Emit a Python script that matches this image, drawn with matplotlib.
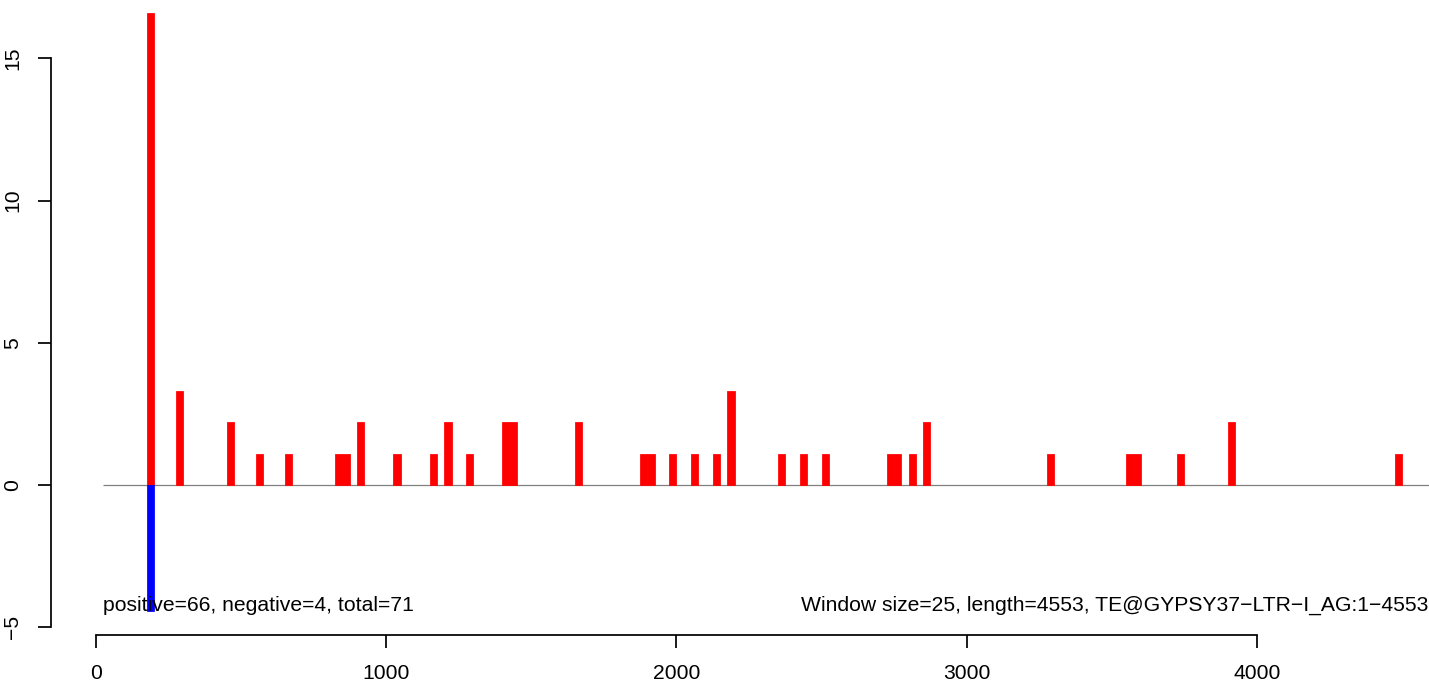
import matplotlib as mpl
mpl.use('Agg')
import matplotlib.pyplot as plt

# window starts (bp) and scaled counts
window = 25
pos_start = [175, 275, 450, 550, 650, 825, 850, 900, 1025, 1150, 1200, 1275,
             1400, 1425, 1650, 1875, 1900, 1975, 2050, 2125, 2175, 2350, 2425,
             2500, 2725, 2750, 2800, 2850, 3275, 3550, 3575, 3725, 3900, 4475]
pos_value = [16.6, 3.32, 2.21, 1.11, 1.11, 1.11, 1.11, 2.21, 1.11, 1.11, 2.21,
             1.11, 2.21, 2.21, 2.21, 1.11, 1.11, 1.11, 1.11, 1.11, 3.32, 1.11,
             1.11, 1.11, 1.11, 1.11, 1.11, 2.21, 1.11, 1.11, 1.11, 1.11, 2.21,
             1.11]
neg_start = [175]
neg_value = [-4.43]
seq_length = 4553
x_ticks = [0, 1000, 2000, 3000, 4000]
y_ticks = [-5, 0, 5, 10, 15]
left_note = 'positive=66, negative=4, total=71'
right_note = ('Window size=25, length=4553, '
              'TE@GYPSY37\u2212LTR\u2212I_AG:1\u22124553')

plt.rcParams['font.family'] = ['Liberation Sans', 'DejaVu Sans']
fs = 15.2

W, H = 1429, 682
fig = plt.figure(figsize=(W / 100, H / 100), dpi=100)
# R-style plot region; it runs past the top and right of the picture
left_px, right_px, top_px, bot_px = 50.7, 1470.0, -11.0, 635.0
ax = fig.add_axes([left_px / W, (H - bot_px) / H,
                   (right_px - left_px) / W, (bot_px - top_px) / H])

ax.hlines(0, 25, 4734, colors='#808080', linewidth=0.9, zorder=1)
ax.bar(pos_start, pos_value, width=window, align='edge', color='#ff0000',
       edgecolor='#ff0000', linewidth=0.55, zorder=2)
ax.bar(neg_start, neg_value, width=window, align='edge', color='#0000ff',
       edgecolor='#0000ff', linewidth=0.55, zorder=2)

ymin = min(neg_value)
ax.text(25, ymin, left_note, ha='left', va='baseline', fontsize=fs)
ax.text(2429, ymin, right_note, ha='left', va='baseline', fontsize=fs)

xr = seq_length - 25
ax.set_xlim(25 - 0.04 * xr, seq_length + 0.04 * xr)
yr = max(pos_value) - ymin
ax.set_ylim(ymin - 0.04 * yr, max(pos_value) + 0.04 * yr)

for s in ['top', 'right']:
    ax.spines[s].set_visible(False)
ax.spines['bottom'].set_bounds(x_ticks[0], x_ticks[-1])
ax.spines['left'].set_bounds(y_ticks[0], y_ticks[-1])
for s in ['bottom', 'left']:
    ax.spines[s].set_linewidth(1.25)

ax.set_xticks(x_ticks)
ax.set_yticks(y_ticks)
ax.tick_params(length=9.1, width=1.25, labelsize=fs, pad=11.5)
for lab in ax.get_yticklabels():
    lab.set_rotation(90)
    lab.set_va('center')
    lab.set_ha('right')

fig.savefig('out.png', dpi=100)
